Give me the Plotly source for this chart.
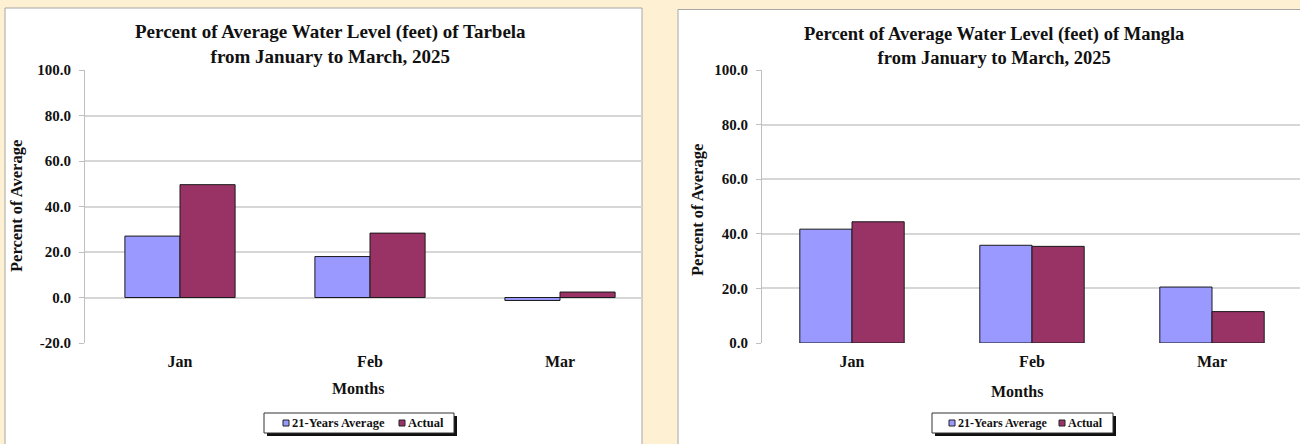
import plotly.graph_objects as go

# Monthly percent-of-average water levels for the two reservoirs
months = ["Jan", "Feb", "Mar"]
tarbela_avg = [27.0, 18.0, -1.3]
tarbela_actual = [49.6, 28.3, 2.4]
mangla_avg = [41.7, 35.8, 20.5]
mangla_actual = [44.4, 35.4, 11.5]
series_names = ["21-Years Average", "Actual"]
y_ticks_tarbela = [-20, 0, 20, 40, 60, 80, 100]
y_labels_tarbela = ["-20.0", "0.0", "20.0", "40.0", "60.0", "80.0", "100.0"]
y_ticks_mangla = [0, 20, 40, 60, 80, 100]
y_labels_mangla = ["0.0", "20.0", "40.0", "60.0", "80.0", "100.0"]

W, H = 1300, 444
BLUE = "#9999FF"
PLUM = "#993366"
CREAM = "#FEF1D3"
GRID = "#D6D6D6"
INK = "#111111"
SERIF = "Liberation Serif, Times New Roman, serif"


def px(x):
    return x / W


def py(y):
    return 1 - y / H


def bold(size):
    return dict(family=SERIF, size=size, color=INK, weight="bold")


fig = go.Figure()

bar_line = dict(color="#1a1a1a", width=1)
colors = [BLUE, PLUM]
panels = [
    ("x", "y", tarbela_avg, tarbela_actual),
    ("x2", "y2", mangla_avg, mangla_actual),
]
for xa, ya, avg, act in panels:
    for name, vals, col in zip(series_names, [avg, act], colors):
        fig.add_trace(go.Bar(x=months, y=vals, name=name,
                             marker=dict(color=col, line=bar_line),
                             xaxis=xa, yaxis=ya, showlegend=False))

yaxis_common = dict(
    showline=True, linecolor="#BFBFBF", linewidth=1,
    ticks="outside", ticklen=5, tickcolor="#BFBFBF",
    showgrid=True, gridcolor=GRID, gridwidth=1.5,
    zeroline=False, tickfont=bold(15), ticklabelstandoff=5,
    automargin=False, fixedrange=True,
)
xaxis_common = dict(
    showline=False, showgrid=False, zeroline=False, ticks="",
    tickfont=bold(16), ticklabelstandoff=7,
    automargin=False, fixedrange=True,
)

# Plot areas in pixel coordinates
L_x0, L_x1 = 85, 642
R_x0, R_x1 = 762, 1300
top_y, bot_y = 70, 343
cat_L = 190.0
cat_R = 180.0

fig.update_layout(
    width=W, height=H,
    margin=dict(l=0, r=0, t=0, b=0),
    paper_bgcolor=CREAM, plot_bgcolor="white",
    barmode="group", bargap=0.42, bargroupgap=0,
    font=dict(family=SERIF, color=INK),
    xaxis=dict(domain=[px(L_x0), px(L_x1)], anchor="y",
               range=[-0.5, -0.5 + (L_x1 - L_x0) / cat_L], **xaxis_common),
    yaxis=dict(domain=[py(bot_y), py(top_y)], anchor="x", range=[-20, 100],
               tickvals=y_ticks_tarbela, ticktext=y_labels_tarbela, **yaxis_common),
    xaxis2=dict(domain=[px(R_x0), px(R_x1)], anchor="y2",
                range=[-0.5, -0.5 + (R_x1 - R_x0) / cat_R], **xaxis_common),
    yaxis2=dict(domain=[py(bot_y), py(top_y)], anchor="x2", range=[0, 100],
                tickvals=y_ticks_mangla, ticktext=y_labels_mangla, **yaxis_common),
    showlegend=False,
)


def rect(x0, x1, y0, y1, fill, line_color=None, width=0):
    return dict(type="rect", xref="paper", yref="paper",
                x0=px(x0), x1=px(x1), y0=py(y1), y1=py(y0),
                fillcolor=fill, line=dict(color=line_color or fill, width=width),
                layer="below")


# White chart panels with grey borders
shapes = [
    rect(5, 642, 8, 460, "white", "#A6A6A6", 1),
    rect(678, 1310, 9.5, 460, "white", "#A6A6A6", 1),
]

annotations = []

# Boxed legends with a drop shadow: (box x0, x1, y0, y1, swatch x's, text size)
legend_boxes = [
    (264, 454, 413, 433, [283, 399], 12.5),
    (932, 1113, 413, 433, [949, 1059], 12),
]
for x0, x1, y0, y1, sw_x, fsize in legend_boxes:
    shapes.append(rect(x0 + 3, x1 + 3, y0 + 3, y1 + 3, "#111111"))
    shapes.append(rect(x0, x1, y0, y1, "white", "#333333", 1))
    yc = (y0 + y1) / 2
    for sx, name, col in zip(sw_x, series_names, colors):
        shapes.append(dict(type="rect", xref="paper", yref="paper",
                           x0=px(sx), x1=px(sx + 6), y0=py(yc + 3), y1=py(yc - 3),
                           fillcolor=col, line=dict(color="#222222", width=1),
                           layer="above"))
        annotations.append(dict(text=name, x=px(sx + 7), y=py(yc), xanchor="left",
                                yanchor="middle", font=bold(fsize)))

fig.update_layout(shapes=shapes)

# Chart titles and axis titles
texts = [
    ("Percent of Average Water Level (feet) of Tarbela<br>from January to March, 2025",
     330, 43.5, 0, 19),
    ("Percent of Average Water Level (feet) of Mangla<br>from January to March, 2025",
     994, 46, 0, 18.5),
    ("Percent of Average", 17, 206, -90, 16.5),
    ("Percent of Average", 697, 210, -90, 16.5),
    ("Months", 358, 388, 0, 16),
    ("Months", 1017, 391, 0, 16),
]
for text, x, y, angle, size in texts:
    annotations.append(dict(text=text, x=px(x), y=py(y), textangle=angle,
                            xanchor="center", yanchor="middle", align="center",
                            font=bold(size)))

for a in annotations:
    a.update(xref="paper", yref="paper", showarrow=False)
fig.update_layout(annotations=annotations)

fig.write_html("out.html")
